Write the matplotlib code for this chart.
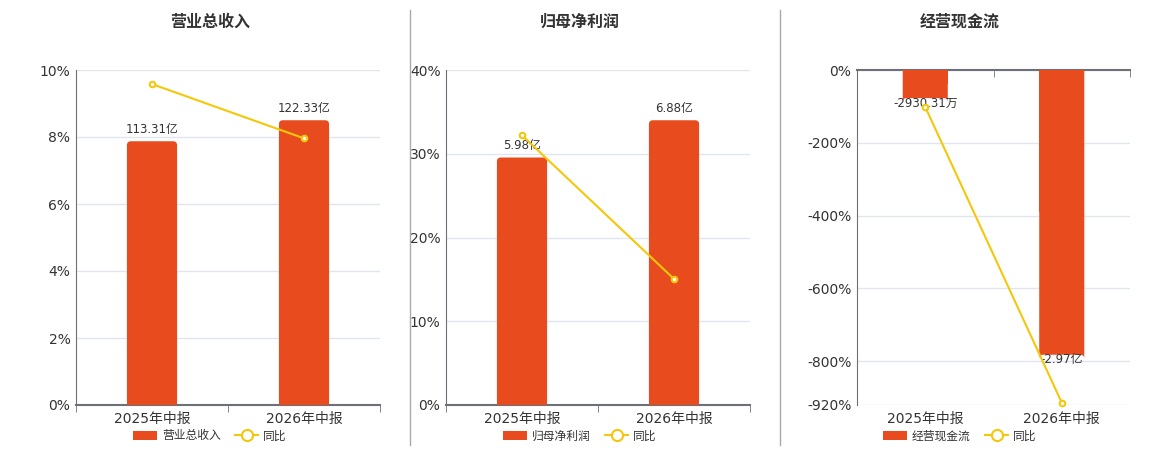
import matplotlib
matplotlib.use("Agg")
import matplotlib.pyplot as plt
from matplotlib.lines import Line2D
from matplotlib.patches import Patch, FancyBboxPatch

plt.rcParams['font.family'] = ['DejaVu Sans', 'Noto Sans CJK SC']

# data
periods = ['2025年中报', '2026年中报']
titles = ['营业总收入', '归母净利润', '经营现金流']
revenue = [113.31, 122.33]          # 亿
revenue_yoy = [9.58, 7.96]          # %
profit = [5.98, 6.88]               # 亿
profit_yoy = [32.2, 15.05]
cashflow = [-0.293031, -2.97]       # 亿
cashflow_yoy = [-101.6, -913.5]
bar_labels = [['113.31亿', '122.33亿'], ['5.98亿', '6.88亿'], ['-2930.31万', '-2.97亿']]
pct_ticks = [[0, 2, 4, 6, 8, 10], [0, 10, 20, 30, 40], [0, -200, -400, -600, -800, -920]]

bars_all = [revenue, profit, cashflow]
yoy_all = [revenue_yoy, profit_yoy, cashflow_yoy]

W, H = 1160, 450
BAR_C = '#e84c1e'
LINE_C = '#f5c70a'
AX_C = '#6e7079'
TXT_C = '#333333'
BAR_W = 0.33

fig = plt.figure(figsize=(W / 100, H / 100), dpi=100)

# axes boxes in pixels: left, right ; centre of each panel for title/legend
boxes = [(76, 380), (446, 750), (857, 1130)]
centers = [210, 580, 960]
top_px, bot_px = 70, 405

x = [0, 1]
for i in range(3):
    l, r = boxes[i]
    rect = [l / W, 1 - bot_px / H, (r - l) / W, (bot_px - top_px) / H]
    ax = fig.add_axes(rect)
    ticks = pct_ticks[i]
    lo, hi = min(ticks), max(ticks)
    ax.set_ylim(lo, hi)
    ax.set_xlim(-0.5, 1.5)
    ax.set_yticks(ticks)
    ax.set_yticklabels([f'{t}%' for t in ticks])
    ax.grid(axis='y', color='#e0e6f1', lw=1)
    ax.set_axisbelow(True)
    ax.tick_params(axis='y', length=0, labelsize=10, labelcolor=TXT_C, pad=4)
    ax.set_xticks(x)
    ax.set_xticklabels(periods)
    ax.set_xticks([-0.5, 0.5, 1.5], minor=True)
    ax.tick_params(axis='x', which='major', length=0, labelsize=10, labelcolor=TXT_C, pad=5)
    for s in ax.spines.values():
        s.set_color(AX_C)
    ax.spines['right'].set_visible(False)
    if lo < 0:
        ax.spines['bottom'].set_visible(False)
        ax.spines['top'].set_linewidth(1.5)
        ax.tick_params(axis='x', which='minor', bottom=False, top=True,
                       direction='in', length=5, color=AX_C)
    else:
        ax.spines['top'].set_visible(False)
        ax.spines['bottom'].set_linewidth(1.5)
        ax.tick_params(axis='x', which='minor', direction='out', length=5, color=AX_C)

    # bars on a hidden scale of their own
    bx = ax.twinx()
    bx.set_zorder(ax.get_zorder() + 1)
    bx.patch.set_visible(False)
    vals = bars_all[i]
    m = max(abs(v) for v in vals) / 0.85
    if lo < 0:
        bx.set_ylim(-m, 0)
    else:
        bx.set_ylim(0, m)
    bx.set_xlim(-0.5, 1.5)
    # rounded tip: full bar as rounded box, base half as plain bar
    xpp = 2.0 / (r - l)
    ypp = m / (bot_px - top_px)
    for xi, v in zip(x, vals):
        bx.add_patch(FancyBboxPatch((xi - BAR_W / 2, 0), BAR_W, v,
                                    boxstyle=f'round,pad=0,rounding_size={4 * xpp}',
                                    mutation_aspect=ypp / xpp,
                                    facecolor=BAR_C, edgecolor='none'))
    bx.bar(x, [v / 2 for v in vals], width=BAR_W, color=BAR_C)
    for xi, v, lab in zip(x, vals, bar_labels[i]):
        if v >= 0:
            bx.annotate(lab, (xi, v), xytext=(0, 4), textcoords='offset points',
                        ha='center', va='bottom', fontsize=8.5, color=TXT_C)
        else:
            bx.annotate(lab, (xi, v), xytext=(0, 1), textcoords='offset points',
                        ha='center', va='top', fontsize=8.5, color=TXT_C)
    bx.axis('off')

    # yoy line on top
    lx = ax.twinx()
    lx.set_zorder(bx.get_zorder() + 1)
    lx.patch.set_visible(False)
    lx.set_ylim(lo, hi)
    lx.set_xlim(-0.5, 1.5)
    lx.plot(x, yoy_all[i], color=LINE_C, lw=1.5, marker='o', ms=4,
            mfc='white', mec=LINE_C, mew=1.5, clip_on=False)
    lx.axis('off')

    fig.text(centers[i] / W, 1 - 22 / H, titles[i], ha='center', va='center',
             fontsize=11.5, weight='bold', color=TXT_C)

    handles = [Patch(facecolor=BAR_C, edgecolor='none', label=titles[i]),
               Line2D([], [], color=LINE_C, lw=1.5, marker='o', ms=8,
                      mfc='white', mec=LINE_C, mew=1.5, label='同比')]
    fig.legend(handles=handles, loc='center', bbox_to_anchor=(centers[i] / W, 1 - 436 / H),
               ncol=2, frameon=False, fontsize=8.5, handlelength=2.0, handleheight=0.9,
               columnspacing=1.2, handletextpad=0.4, labelcolor=TXT_C)

for sx in [410, 780]:
    fig.add_artist(Line2D([sx / W, sx / W], [1 - 10 / H, 1 - 445 / H], color='#aaaaaa', lw=1))

fig.savefig('out.png', dpi=100)
